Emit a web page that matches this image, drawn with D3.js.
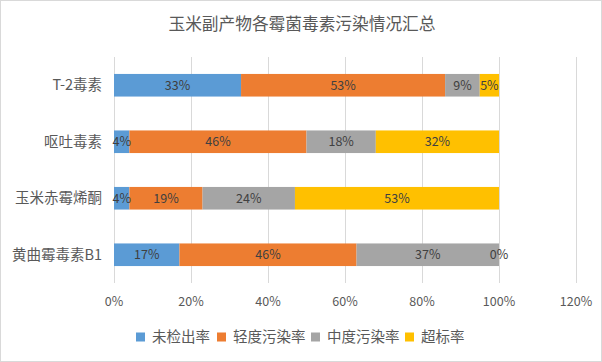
<!DOCTYPE html>
<html>
<head>
<meta charset="utf-8">
<script src="https://cdn.jsdelivr.net/npm/d3@7"></script>
<style>
  body { margin: 0; background: #fff; }
  text { font-family: "Noto Sans CJK SC", "Noto Sans", sans-serif; }
</style>
</head>
<body>
<svg id="chart" width="602" height="362"></svg>
<script>
const categories = ['T-2毒素', '呕吐毒素', '玉米赤霉烯酮', '黄曲霉毒素B1'];
const seriesNames = ['未检出率', '轻度污染率', '中度污染率', '超标率'];
const seriesColors = ['#5B9BD5', '#ED7D31', '#A5A5A5', '#FFC000'];
// percent values per category, in series order
const notDetected = [33, 4, 4, 17];
const light = [53, 46, 19, 46];
const moderate = [9, 18, 24, 37];
const exceeded = [5, 32, 53, 0];
const xTicks = [0, 20, 40, 60, 80, 100, 120];

const svg = d3.select('#chart');
const W = 602, H = 362;

svg.append('rect')
  .attr('x', 0.5).attr('y', 0.5)
  .attr('width', W - 1).attr('height', H - 1)
  .attr('fill', '#fff').attr('stroke', '#d9d9d9');

svg.append('text')
  .attr('x', 302).attr('y', 30)
  .attr('text-anchor', 'middle')
  .attr('font-size', 16.7)
  .attr('fill', '#595959')
  .text('玉米副产物各霉菌毒素污染情况汇总');

const x = d3.scaleLinear().domain([0, 120]).range([114, 576]);
const y = d3.scaleBand().domain(categories).range([57, 283]).paddingInner(0.6).paddingOuter(0.3);

// gridlines
svg.append('g').selectAll('line').data(xTicks).join('line')
  .attr('x1', d => Math.round(x(d)) + 0.5).attr('x2', d => Math.round(x(d)) + 0.5)
  .attr('y1', 57).attr('y2', 283)
  .attr('stroke', '#d9d9d9');

// tick labels
svg.append('g').selectAll('text').data(xTicks).join('text')
  .attr('x', d => x(d)).attr('y', 306)
  .attr('text-anchor', 'middle')
  .attr('font-size', 12.5)
  .attr('fill', '#595959')
  .text(d => d + '%');

// category labels
svg.append('g').selectAll('text').data(categories).join('text')
  .attr('x', 102).attr('y', d => y(d) + y.bandwidth() / 2 + 5)
  .attr('text-anchor', 'end')
  .attr('font-size', 14.5)
  .attr('fill', '#595959')
  .text(d => d);

const table = categories.map((c, i) => ({
  cat: c,
  values: [notDetected[i], light[i], moderate[i], exceeded[i]]
}));

const segs = [];
table.forEach(row => {
  let acc = 0;
  row.values.forEach((v, s) => {
    segs.push({ cat: row.cat, s, v, x0: acc, x1: acc + v });
    acc += v;
  });
});

svg.append('g').selectAll('rect').data(segs).join('rect')
  .attr('x', d => x(d.x0))
  .attr('y', d => y(d.cat))
  .attr('width', d => x(d.x1) - x(d.x0))
  .attr('height', y.bandwidth())
  .attr('fill', d => seriesColors[d.s]);

svg.append('g').selectAll('text').data(segs).join('text')
  .attr('x', d => (x(d.x0) + x(d.x1)) / 2)
  .attr('y', d => y(d.cat) + y.bandwidth() / 2 + 4.5)
  .attr('text-anchor', 'middle')
  .attr('font-size', 12.5)
  .attr('fill', '#404040')
  .text(d => d.v + '%');

// legend
const lg = svg.append('g').selectAll('g').data(seriesNames).join('g')
  .attr('transform', (d, i) => `translate(${[136, 217, 311, 405][i]},337)`);
lg.append('rect').attr('x', 0).attr('y', -4.5).attr('width', 9).attr('height', 9)
  .attr('fill', (d, i) => seriesColors[i]);
lg.append('text').attr('x', 16).attr('y', 5)
  .attr('font-size', 14.5).attr('fill', '#595959')
  .text(d => d);
</script>
</body>
</html>
